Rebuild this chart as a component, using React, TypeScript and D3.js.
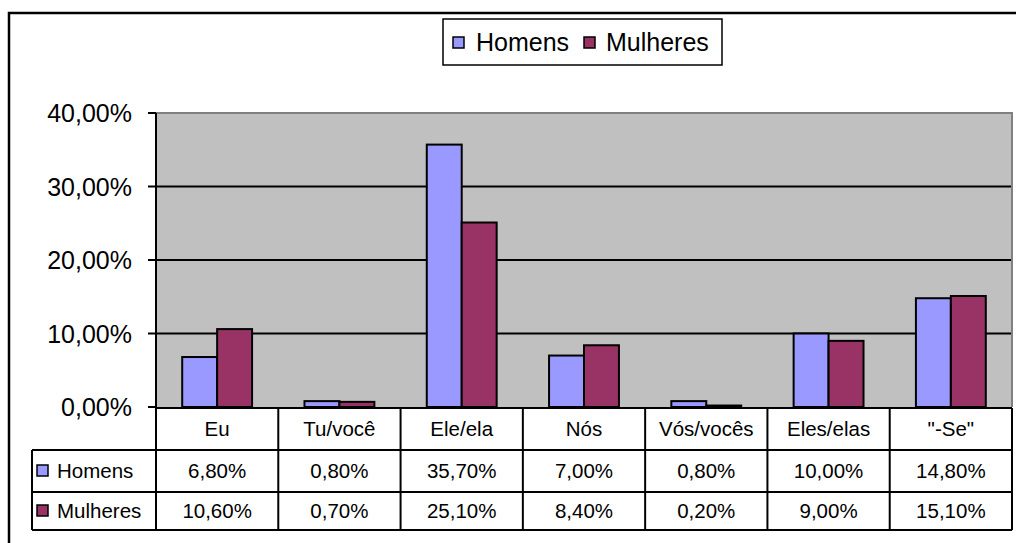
import React from 'react';
import * as d3 from 'd3';

// chart data
const categories = ['Eu', 'Tu/você', 'Ele/ela', 'Nós', 'Vós/vocês', 'Eles/elas', '"-Se"'];
const seriesNames = ['Homens', 'Mulheres'];
const homens = [6.8, 0.8, 35.7, 7.0, 0.8, 10.0, 14.8];
const mulheres = [10.6, 0.7, 25.1, 8.4, 0.2, 9.0, 15.1];
const yTicks = [0, 10, 20, 30, 40];

const colors = { Homens: '#9999FF', Mulheres: '#993366' };
const font = "'Liberation Sans', Arial, sans-serif";

const ptLocale = d3.formatLocale({ decimal: ',', thousands: '.', grouping: [3], currency: ['', ' €'] });
const pct = ptLocale.format('.2%');

export default function App() {
  const width = 1016;
  const height = 543;

  // plot area
  const left = 156;
  const right = 1012;
  const top = 113;
  const bottom = 407;

  // table rows
  const rowTop = 408;
  const row1 = 450;
  const row2 = 492;
  const rowEnd = 530;
  const labelLeft = 32;
  const tableFont = 20.5;

  const series = [
    { name: 'Homens', values: homens },
    { name: 'Mulheres', values: mulheres },
  ];

  const x = d3.scaleBand().domain(categories).range([left, right]);
  const xInner = d3.scaleBand().domain(seriesNames).range([0, x.bandwidth()]).paddingOuter(0.75);
  const y = d3.scaleLinear().domain([0, 40]).range([bottom, top]);

  const rowYs = [row1, row2];

  return (
    <svg
      width={width}
      height={height}
      style={{ position: 'absolute', left: 0, top: 0, background: '#fff' }}
      fontFamily={font}
    >
      {/* outer chart border (cropped on right and bottom) */}
      <path d={`M9,${height + 5} V13 H${width + 5}`} fill="none" stroke="#000" strokeWidth={2.5} />

      {/* plot background */}
      <rect x={left} y={top} width={right - left} height={bottom - top} fill="#C0C0C0" />

      {/* gridlines */}
      {yTicks.filter(t => t > 0 && t < 40).map(t => (
        <line key={t} x1={left} x2={right} y1={y(t)} y2={y(t)} stroke="#000" strokeWidth={2} />
      ))}
      {/* top and right of plot area */}
      <path d={`M${left},${y(40)} H${right} V${bottom}`} fill="none" stroke="#808080" strokeWidth={2} />

      {/* bars */}
      {series.map(s => (
        <g key={s.name}>
          {s.values.map((v, i) => (
            <rect
              key={i}
              x={(x(categories[i]) as number) + (xInner(s.name) as number)}
              y={y(v)}
              width={xInner.bandwidth()}
              height={bottom - y(v)}
              fill={colors[s.name]}
              stroke="#000"
              strokeWidth={2}
            />
          ))}
        </g>
      ))}

      {/* y axis */}
      <line x1={left} x2={left} y1={top} y2={bottom} stroke="#000" strokeWidth={2} />
      {yTicks.map(t => (
        <g key={t}>
          <line x1={left - 8} x2={left} y1={y(t)} y2={y(t)} stroke="#000" strokeWidth={2} />
          <text x={132} y={y(t)} dy="0.36em" textAnchor="end" fontSize={25} fill="#000">
            {pct(t / 100)}
          </text>
        </g>
      ))}

      {/* data table */}
      <g stroke="#000" strokeWidth={2} fill="none">
        <line x1={left} x2={right} y1={rowTop} y2={rowTop} />
        <line x1={labelLeft} x2={right} y1={row1} y2={row1} />
        <line x1={labelLeft} x2={right} y1={row2} y2={row2} />
        <line x1={labelLeft} x2={right} y1={rowEnd} y2={rowEnd} />
        <line x1={labelLeft} x2={labelLeft} y1={row1} y2={rowEnd} />
        {categories.map(c => (
          <line key={c} x1={x(c)} x2={x(c)} y1={rowTop} y2={rowEnd} />
        ))}
        <line x1={right} x2={right} y1={rowTop} y2={rowEnd} />
      </g>

      {categories.map(c => (
        <text
          key={c}
          x={(x(c) as number) + x.bandwidth() / 2}
          y={(rowTop + row1) / 2}
          dy="0.36em"
          textAnchor="middle"
          fontSize={tableFont}
          fill="#000"
        >
          {c}
        </text>
      ))}

      {series.map((s, si) => {
        const ry0 = rowYs[si];
        const ry1 = si === 0 ? row2 : rowEnd;
        const cy = (ry0 + ry1) / 2;
        return (
          <g key={s.name}>
            <rect x={37} y={cy - 6} width={11} height={11} fill={colors[s.name]} stroke="#000" strokeWidth={1.5} />
            <text x={57} y={cy} dy="0.36em" fontSize={tableFont} fill="#000">{s.name}</text>
            {s.values.map((v, i) => (
              <text
                key={i}
                x={(x(categories[i]) as number) + x.bandwidth() / 2}
                y={cy}
                dy="0.36em"
                textAnchor="middle"
                fontSize={tableFont}
                fill="#000"
              >
                {pct(v / 100)}
              </text>
            ))}
          </g>
        );
      })}

      {/* legend */}
      <rect x={443} y={19} width={279} height={46} fill="#fff" stroke="#000" strokeWidth={1.5} />
      <rect x={453} y={37} width={11} height={11} fill={colors.Homens} stroke="#000" strokeWidth={1.5} />
      <text x={476} y={42} dy="0.36em" fontSize={25} fill="#000">Homens</text>
      <rect x={584} y={37} width={11} height={11} fill={colors.Mulheres} stroke="#000" strokeWidth={1.5} />
      <text x={606} y={42} dy="0.36em" fontSize={25} fill="#000">Mulheres</text>
    </svg>
  );
}
